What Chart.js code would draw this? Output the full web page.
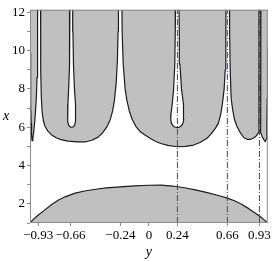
<!DOCTYPE html>
<html>
<head>
<meta charset="utf-8">
<script src="https://cdn.jsdelivr.net/npm/chart.js@4"></script>
<style>
  html, body { margin: 0; padding: 0; background: #fff; }
  #wrap { width: 273px; height: 261px; }
</style>
</head>
<body>
<div id="wrap"><canvas id="plot"></canvas></div>
<script>
// horizontal axis is labelled "y", vertical axis is labelled "x"
const yTicks = [-0.93, -0.66, -0.24, 0, 0.24, 0.66, 0.93];
const xTicks = [1, 2, 3, 4, 5, 6, 7, 8, 9, 10, 11, 12];
const markY = [0.24, 0.66, 0.93];

// lower gray region, its upper edge
const lowY = [-1, -0.97, -0.93, -0.88, -0.82, -0.76, -0.7, -0.62, -0.54, -0.46, -0.36, -0.24, -0.12, 0,
  0.1, 0.2, 0.3, 0.4, 0.5, 0.6, 0.66, 0.72, 0.78, 0.84, 0.9, 0.95, 1];
const lowX = [1.0, 1.2, 1.42, 1.66, 1.95, 2.2, 2.38, 2.56, 2.67, 2.75, 2.83, 2.89, 2.94, 2.97,
  2.98, 2.93, 2.84, 2.72, 2.57, 2.41, 2.3, 2.16, 1.98, 1.75, 1.5, 1.27, 1.0];

// upper gray region, its lower edge (open slits run up past the frame)
const topY = [-1.05, -1.0, -0.996, -0.993, -0.99, -0.987, -0.983, -0.976, -0.968, -0.96, -0.953, -0.946,
  -0.941, -0.938, -0.936, -0.935, -0.911, -0.911, -0.909, -0.905, -0.898, -0.888, -0.874, -0.85, -0.818,
  -0.78, -0.74, -0.68, -0.6, -0.53, -0.48, -0.43, -0.39, -0.355, -0.326, -0.305, -0.29, -0.275, -0.265,
  -0.259, -0.256, -0.228, -0.225, -0.216, -0.2, -0.185, -0.165, -0.14, -0.11, -0.075, -0.03, 0.01, 0.05,
  0.1, 0.16, 0.236, 0.31, 0.376, 0.43, 0.489, 0.53, 0.56, 0.584, 0.605, 0.62, 0.633, 0.642, 0.647, 0.649,
  0.677, 0.679, 0.684, 0.692, 0.705, 0.72, 0.74, 0.77, 0.8, 0.826, 0.855, 0.882, 0.905, 0.922, 0.925,
  0.926, 0.926, 0.942, 0.942, 0.941, 0.938, 0.953, 0.968, 0.98, 0.988, 0.992, 0.995, 0.998, 1.0, 1.05];
const topX = [13, 9.9, 8.5, 7.2, 6.2, 5.6, 5.3, 5.42, 5.8, 6.3, 6.9, 7.6,
  8.6, 10, 11.5, 13, 13, 11, 9, 7.6, 6.8, 6.35, 6.05, 5.8, 5.6,
  5.45, 5.35, 5.27, 5.23, 5.24, 5.32, 5.47, 5.7, 6.0, 6.38, 6.85, 7.4, 8.3, 9.5,
  11, 13, 13, 11, 9.3, 8.0, 7.4, 6.85, 6.4, 6.05, 5.78, 5.58, 5.42, 5.28,
  5.15, 5.05, 4.98, 5.0, 5.07, 5.2, 5.42, 5.7, 5.95, 6.2, 6.7, 7.3, 8.0, 9.0, 10.5, 13,
  13, 11, 9.0, 7.5, 6.9, 6.4, 6.05, 5.7, 5.45, 5.37, 5.37, 5.44, 5.56, 5.72, 6.2,
  8, 13, 13, 8, 6.2, 5.72, 5.5, 5.34, 5.25, 5.4, 6.3, 7.5, 8.8, 9.9, 13];

// white teardrops hanging from the top edge
const dropAY = [-0.664, -0.666, -0.669, -0.675, -0.681, -0.684, -0.682, -0.674, -0.662, -0.65,
  -0.637, -0.625, -0.617, -0.615, -0.619, -0.626, -0.634, -0.639, -0.641];
const dropAX = [12.5, 11, 9.2, 8.0, 7.2, 6.6, 6.3, 6.1, 6.02, 6.0, 6.02, 6.1, 6.3, 6.6, 7.2, 8.0, 9.2, 11, 12.5];
const dropBY = [0.225, 0.222, 0.218, 0.208, 0.196, 0.186, 0.184, 0.19, 0.205, 0.222, 0.238,
  0.254, 0.271, 0.286, 0.294, 0.295, 0.287, 0.274, 0.261, 0.256, 0.253];
const dropBX = [12.5, 11, 9.3, 8.0, 7.2, 6.7, 6.4, 6.2, 6.06, 6.0, 5.98,
  6.0, 6.06, 6.2, 6.4, 6.7, 7.2, 8.0, 9.3, 11, 12.5];

const X_MAX = 12.13;
const GRAY = '#c0c0c0';
const EDGE = '#1c1c1c';
const FONT = 'Liberation Serif';

const pts = (ys, xs) => ys.map((y, i) => ({ x: y, y: xs[i] }));

const region = (ys, xs, color, fill, order) => ({
  data: pts(ys, xs),
  backgroundColor: color,
  borderColor: EDGE,
  borderWidth: 1.2,
  borderJoinStyle: 'round',
  fill: fill,
  pointRadius: 0,
  pointHitRadius: 0,
  clip: 0,
  order: order
});

const datasets = [
  ...markY.map(m => ({
    data: [{ x: m, y: 1 }, { x: m, y: X_MAX }],
    borderColor: '#3232ff',
    borderWidth: 1,
    borderDash: [6, 2, 1, 2],
    fill: false,
    pointRadius: 0,
    clip: 0,
    order: 0
  })),
  region(dropAY, dropAX, '#ffffff', 'shape', 1),
  region(dropBY, dropBX, '#ffffff', 'shape', 1),
  region(topY, topX, GRAY, 'shape', 2),
  region(lowY, lowX, GRAY, 'start', 2)
];

const fmt = v => (v < 0 ? '\u2212' + Math.abs(v) : String(v));

// frame round the plot and the two single-letter axis names
const decor = {
  id: 'decor',
  afterDraw(chart) {
    const { ctx, chartArea: a } = chart;
    ctx.save();
    ctx.strokeStyle = '#8c8c8c';
    ctx.lineWidth = 1;
    ctx.strokeRect(a.left + 0.5, a.top + 0.5, a.right - a.left - 1, a.bottom - a.top - 1);
    ctx.fillStyle = '#000';
    ctx.font = 'italic 14px "' + FONT + '"';
    ctx.textAlign = 'center';
    ctx.textBaseline = 'middle';
    ctx.fillText('x', a.left - 24, (a.top + a.bottom) / 2);
    ctx.fillText('y', (a.left + a.right) / 2, a.bottom + 29);
    ctx.restore();
  }
};

new Chart(document.getElementById('plot'), {
  type: 'line',
  data: { datasets },
  plugins: [decor],
  options: {
    responsive: true,
    maintainAspectRatio: false,
    animation: false,
    layout: { padding: { top: 9, right: 5, left: 0, bottom: 0 } },
    plugins: { legend: { display: false }, tooltip: { enabled: false } },
    scales: {
      x: {
        type: 'linear',
        min: -1,
        max: 1,
        afterBuildTicks: s => { s.ticks = yTicks.map(v => ({ value: v })); },
        afterFit: s => { s.height = 38; },
        ticks: {
          autoSkip: false,
          maxRotation: 0,
          padding: 2,
          color: '#000',
          font: { family: FONT, size: 13 },
          callback: v => fmt(v)
        },
        grid: { drawOnChartArea: false, drawTicks: true, tickLength: 3, color: '#8c8c8c' },
        border: { display: false }
      },
      y: {
        type: 'linear',
        min: 1,
        max: X_MAX,
        afterBuildTicks: s => { s.ticks = xTicks.map(v => ({ value: v })); },
        afterFit: s => { s.width = 30; },
        ticks: {
          autoSkip: false,
          padding: 2,
          color: '#000',
          font: { family: FONT, size: 13 },
          callback: v => (v % 2 === 0 ? String(v) : '')
        },
        grid: { drawOnChartArea: false, drawTicks: true, tickLength: 3, color: '#8c8c8c' },
        border: { display: false }
      }
    }
  }
});
</script>
</body>
</html>
